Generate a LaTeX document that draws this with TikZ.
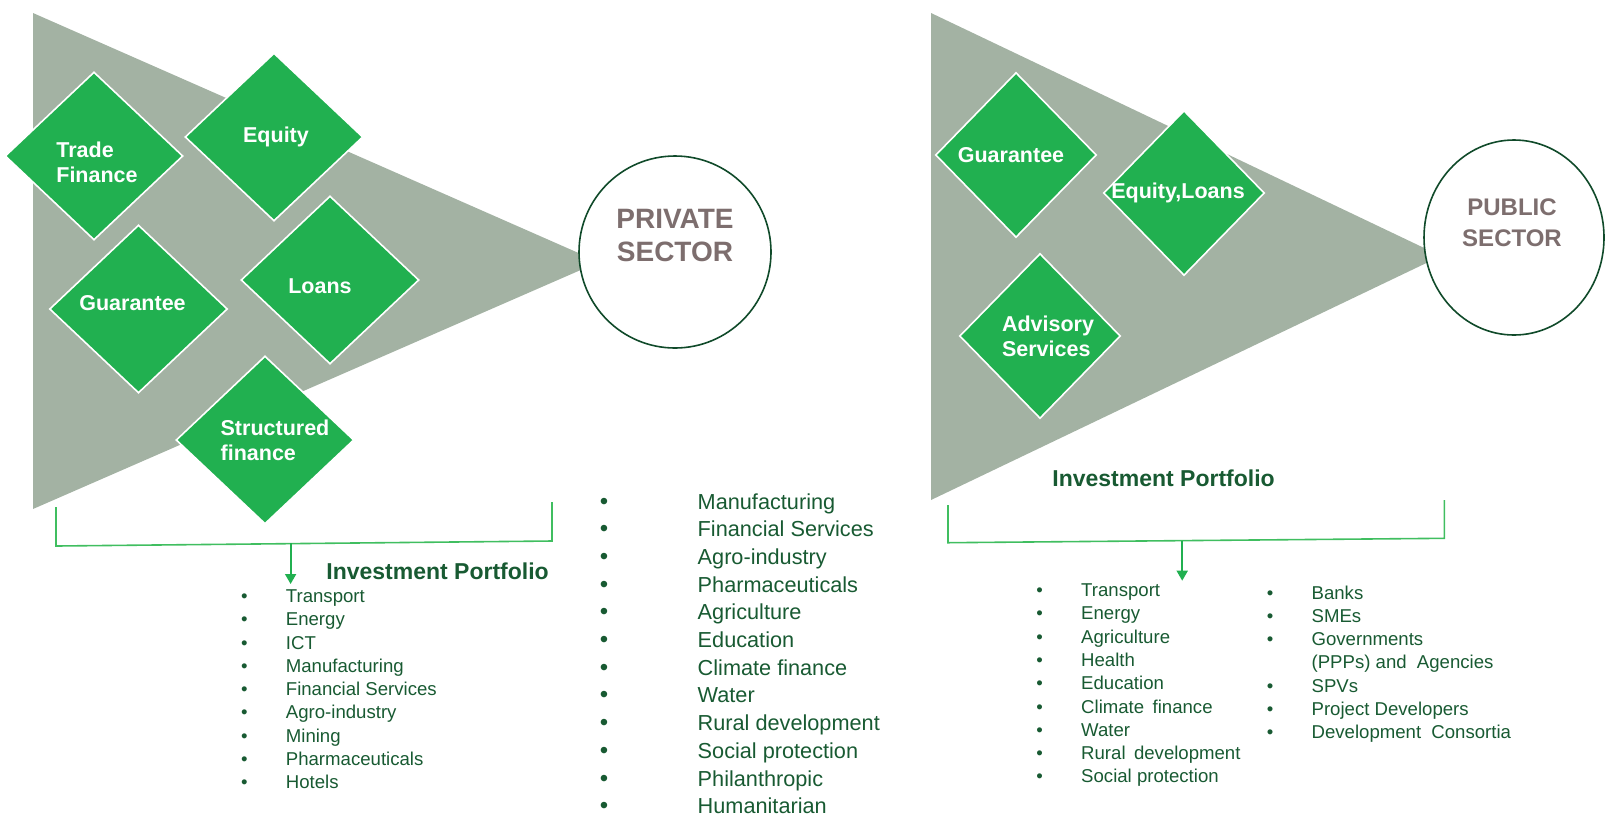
\documentclass[tikz,border=0pt]{standalone}
\usepackage{fontspec}
\setmainfont{Liberation Sans}
\usetikzlibrary{shapes.geometric,arrows.meta}

\definecolor{dealgreen}{RGB}{33,176,80}
\definecolor{fangray}{RGB}{163,178,163}
\definecolor{ringgreen}{RGB}{16,74,42}
\definecolor{sectorgray}{RGB}{125,110,110}
\definecolor{listgreen}{RGB}{24,90,50}
\definecolor{bracketgreen}{RGB}{64,190,96}

\tikzset{
  deal/.style={diamond,draw=white,line width=0.8pt,fill=dealgreen,inner sep=0pt,
    minimum width=89pt,minimum height=84pt},
  dealsm/.style={deal,minimum width=80.5pt,minimum height=82.5pt},
  dealtext/.style={text=white,font=\bfseries\fontsize{10.75}{12.5}\selectfont,align=left,inner sep=0pt},
  ring/.style={draw=ringgreen,line width=0.8pt,fill=white,inner sep=0pt},
  sector/.style={text=sectorgray,align=center,inner sep=0pt},
  bracket/.style={draw=bracketgreen,line width=0.8pt},
  drop/.style={draw=dealgreen,line width=0.9pt,-{Triangle[width=5.5pt,length=5pt]}},
  heading/.style={text=listgreen,font=\bfseries\fontsize{11.5}{13}\selectfont,anchor=base west,inner sep=0pt},
  entry/.style={text=listgreen,anchor=base west,inner sep=0pt},
  bullet/.style={text=listgreen,anchor=base,inner sep=0pt},
  small/.style={font=\fontsize{9.3}{11}\selectfont},
  large/.style={font=\fontsize{10.85}{13}\selectfont}
}

\begin{document}
\begin{tikzpicture}[x=0.5pt,y=-0.5pt]
\useasboundingbox (0,0) rectangle (1609,820);

% private sector
\fill[fangray] (33,13) -- (33,509) -- (599,262) -- cycle;
\node[deal,label={[dealtext,xshift=1.5pt,yshift=-3pt]center:Trade\\Finance}] (trade) at (94,156) {};
\node[deal,label={[dealtext,xshift=1pt]center:Equity}] (equity) at (274,137) {};
\node[deal,label={[dealtext,xshift=-3pt,yshift=3pt]center:Guarantee}] (guar) at (138.5,309) {};
\node[deal,label={[dealtext,xshift=-5pt,yshift=-3pt]center:Loans}] (loans) at (330,280) {};
\node[deal,label={[dealtext,xshift=5pt]center:Structured\\finance}] (struct) at (265,440) {};
\node[ring,circle,minimum size=96pt] (private) at (675,252) {};
\node[sector,font=\bfseries\fontsize{14}{16.5}\selectfont] (privtext) at (675,235) {PRIVATE\\SECTOR};

\coordinate (pa) at (56,507);
\coordinate (pb) at (56,546);
\coordinate (pc) at (552,541);
\coordinate (pd) at (552,502);
\draw[bracket] (pa) -- (pb) -- (pc) -- (pd);
\coordinate (pfrom) at (290.6,543.4);
\coordinate (pto) at (290.6,584);
\draw[drop] (pfrom) -- (pto);
\node[heading] (ptitle) at (326,579) {Investment Portfolio};

\foreach \s [count=\i from 0] in {Transport,Energy,ICT,Manufacturing,Financial Services,Agro-industry,Mining,Pharmaceuticals,Hotels}{
  \node[bullet,small] (pdot\i) at (244.5,{602.5+23.25*\i}) {•};
  \node[entry,small] (pitem\i) at (285.5,{602.5+23.25*\i}) {\s};
}

\foreach \s [count=\i from 0] in {Manufacturing,Financial Services,Agro-industry,Pharmaceuticals,Agriculture,Education,Climate finance,Water,Rural development,Social protection,Philanthropic,Humanitarian}{
  \node[bullet,font=\fontsize{12}{12}\selectfont] (mdot\i) at (604,{509+27.7*\i}) {•};
  \node[entry,large] (mitem\i) at (697.3,{509+27.7*\i}) {\s};
}

% public sector
\fill[fangray] (931,13) -- (931,500) -- (1441,256) -- cycle;
\node[dealsm,label={[dealtext,xshift=-2.5pt]center:Guarantee}] (guar2) at (1016,155) {};
\node[dealsm,label={[dealtext,xshift=-3pt]center:Equity,Loans}] (eqloans) at (1184,193) {};
\node[dealsm,label={[dealtext,xshift=4pt]center:Advisory\\Services}] (advis) at (1040,336) {};
\node[ring,ellipse,minimum width=90pt,minimum height=97.5pt] (public) at (1514,237.5) {};
\node[sector,font=\bfseries\fontsize{12}{15.5}\selectfont] (pubtext) at (1512,222.5) {PUBLIC\\SECTOR};
\node[heading] (gtitle) at (1052,486) {Investment Portfolio};

\coordinate (ga) at (948,505);
\coordinate (gb) at (948,542.7);
\coordinate (gc) at (1444.4,538.3);
\coordinate (gd) at (1444.4,500);
\draw[bracket] (ga) -- (gb) -- (gc) -- (gd);
\coordinate (gfrom) at (1182.2,540.6);
\coordinate (gto) at (1182.2,580.7);
\draw[drop] (gfrom) -- (gto);

\foreach \s [count=\i from 0] in {Transport,Energy,Agriculture,Health,Education,Climate\hspace{0.45em}finance,Water,Rural\hspace{0.45em}development,Social protection}{
  \node[bullet,small] (gdot\i) at (1039.5,{596.5+23.3*\i}) {•};
  \node[entry,small] (gitem\i) at (1080.8,{596.5+23.3*\i}) {\s};
}

\foreach \r/\b/\s in {0/1/Banks,1/1/SMEs,2/1/Governments,3/0/(PPPs) and\hspace{0.55em}Agencies,4/1/SPVs,5/1/Project Developers,6/1/Development\hspace{0.55em}Consortia}{
  \ifnum\b=1 \node[bullet,small] (hdot\r) at (1270,{599+23.27*\r}) {•};\fi
  \node[entry,small] (hitem\r) at (1311.2,{599+23.27*\r}) {\s};
}
\end{tikzpicture}
\end{document}
